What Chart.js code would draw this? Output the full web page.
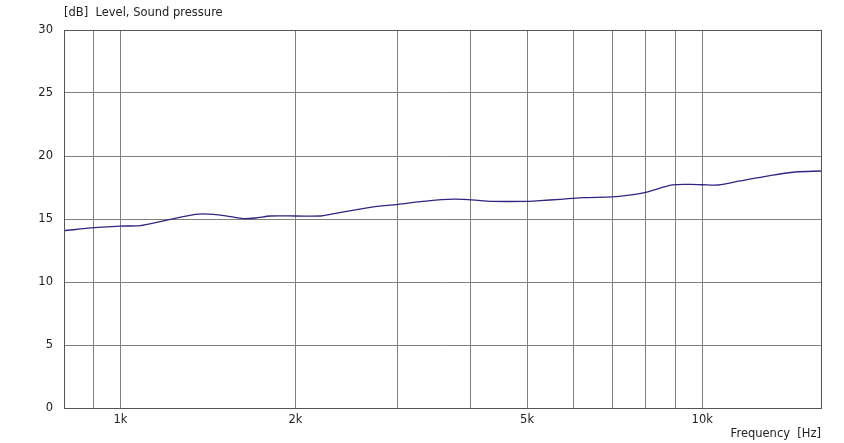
<!DOCTYPE html>
<html>
<head>
<meta charset="utf-8">
<script src="https://cdn.jsdelivr.net/npm/chart.js@4.4.1/dist/chart.umd.min.js"></script>
<style>
  html, body { margin: 0; padding: 0; background: #fff; }
  #wrap { width: 844px; height: 443px; }
</style>
</head>
<body>
<div id="wrap"><canvas id="splChart" width="844" height="443"></canvas></div>
<script>
// frequency response
const freqHz = [800, 902, 1000, 1082, 1171, 1346, 1445, 1545, 1627, 1706, 1810, 2006, 2207, 2295,
  2688, 3001, 3276, 3645, 3882, 4156, 4321, 4998, 5262, 5695, 6224, 7007, 7430, 7995, 8883,
  9530, 10000, 10662, 11617, 13070, 14440, 16000];
const levelDb = [14.07, 14.31, 14.44, 14.47, 14.79, 15.37, 15.37, 15.19, 15.03, 15.08, 15.24, 15.24,
  15.24, 15.37, 15.93, 16.16, 16.38, 16.56, 16.56, 16.46, 16.40, 16.40, 16.46, 16.56, 16.69, 16.75,
  16.87, 17.12, 17.70, 17.75, 17.72, 17.70, 18.02, 18.44, 18.73, 18.81];

const gridFreqs = [900, 1000, 2000, 3000, 4000, 5000, 6000, 7000, 8000, 9000, 10000];
const labelFreqs = { 1000: "1k", 2000: "2k", 5000: "5k", 10000: "10k" };

const yTitle = "[dB]  Level, Sound pressure";
const xTitle = "Frequency  [Hz]";

const points = freqHz.map((f, i) => ({ x: f, y: levelDb[i] }));

const fontFamily = "'DejaVu Sans', Verdana, sans-serif";

// frame around plot area + the y caption at top left
const framePlugin = {
  id: "frame",
  afterDraw(chart) {
    const { ctx, chartArea } = chart;
    ctx.save();
    ctx.strokeStyle = "#555";
    ctx.lineWidth = 1;
    ctx.strokeRect(Math.round(chartArea.left) + 0.5, Math.round(chartArea.top) + 0.5,
      Math.round(chartArea.right - chartArea.left), Math.round(chartArea.bottom - chartArea.top));
    ctx.fillStyle = "#222";
    ctx.font = "11.5px " + fontFamily;
    ctx.textBaseline = "middle";
    ctx.textAlign = "left";
    ctx.fillText(yTitle, chartArea.left, 13);
    ctx.restore();
  },
};

const ctx = document.querySelector("#splChart").getContext("2d");

Chart.defaults.font.family = fontFamily;
Chart.defaults.font.size = 11.5;
Chart.defaults.color = "#222";

const splChart = new Chart(ctx, {
  type: "line",
  data: {
    datasets: [
      {
        label: "Sound pressure",
        data: points,
        borderColor: "#2e2680",
        borderWidth: 1.3,
        pointRadius: 0,
        tension: 0.3,
        fill: false,
      },
    ],
  },
  options: {
    responsive: false,
    animation: false,
    plugins: {
      legend: { display: false },
      tooltip: { enabled: false },
    },
    layout: {
      padding: { top: 30, right: 23, bottom: 0, left: 0 },
    },
    scales: {
      x: {
        type: "logarithmic",
        min: 800,
        max: 16000,
        afterBuildTicks: (scale) => {
          scale.ticks = gridFreqs.map((v) => ({ value: v }));
        },
        afterFit: (scale) => {
          scale.height = 35;
        },
        ticks: {
          autoSkip: false,
          maxRotation: 0,
          padding: 5,
          callback: (value) => labelFreqs[value] || "",
        },
        grid: {
          color: "#808080",
          drawTicks: false,
        },
        border: { display: false },
        title: {
          display: true,
          text: xTitle,
          align: "end",
          padding: { top: 0, bottom: 2 },
        },
      },
      y: {
        min: 0,
        max: 30,
        afterFit: (scale) => {
          scale.width = 64;
        },
        ticks: {
          stepSize: 5,
          padding: 11,
        },
        grid: {
          color: "#808080",
          drawTicks: false,
        },
        border: { display: false },
      },
    },
  },
  plugins: [framePlugin],
});
</script>
</body>
</html>
